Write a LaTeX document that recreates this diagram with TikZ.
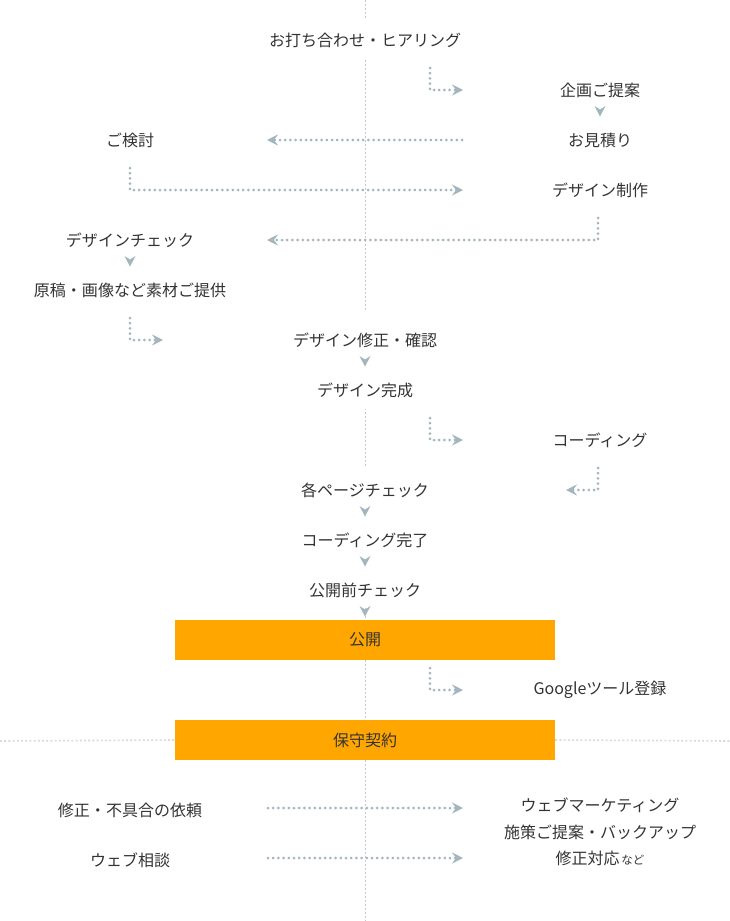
\documentclass[tikz,border=0pt]{standalone}
\usepackage{fontspec}
\setmainfont{Noto Sans CJK JP}
\usetikzlibrary{arrows.meta,calc}
\definecolor{txt}{HTML}{333333}
\definecolor{arr}{HTML}{A3B5BD}
\definecolor{cline}{HTML}{C8C8C8}
\definecolor{hline}{HTML}{DADADA}
\definecolor{orng}{HTML}{FFA600}
\begin{document}
\begin{tikzpicture}[x=1bp,y=-1bp,
  lbl/.style={text=txt,font=\fontsize{16bp}{19bp}\selectfont,inner sep=0pt},
  obox/.style={fill=orng,minimum width=380bp,minimum height=40bp,inner sep=0pt,text=txt,font=\fontsize{16bp}{19bp}\selectfont},
  flow/.style={draw=arr,line width=3bp,dash pattern=on 0bp off 5.2bp,line cap=round,
    -{Stealth[length=11bp,width=11bp,inset=4bp]}},
  down/.pic={\fill[arr] (-5.5,-5)--(0,5.5)--(5.5,-5)--(0,-1.5)--cycle;}]
\useasboundingbox (0,0) rectangle (730,921);
% center guide line
\draw[cline,line width=0.8bp,dash pattern=on 2bp off 2bp] (365,0) -- (365,921);
\fill[white] (358,20) rectangle (372,59);
\fill[white] (358,312) rectangle (372,409);
\fill[white] (358,468) rectangle (372,608);
% texts
\node[lbl] (hear) at (365,40) {お打ち合わせ・ヒアリング};
\node[lbl] (kikaku) at (600,90) {企画ご提案};
\node[lbl] (mitsu) at (600,140) {お見積り};
\node[lbl] (kento) at (130,140) {ご検討};
\node[lbl] (seisaku) at (600,190) {デザイン制作};
\node[lbl] (dcheck) at (130,240) {デザインチェック};
\node[lbl] (genko) at (130,290) {原稿・画像など素材ご提供};
\node[lbl] (shusei) at (365,340) {デザイン修正・確認};
\node[lbl] (kansei) at (365,390) {デザイン完成};
\node[lbl] (coding) at (600,440) {コーディング};
\node[lbl] (pcheck) at (365,490) {各ページチェック};
\node[lbl] (ckanryo) at (365,540) {コーディング完了};
\node[lbl] (kcheck) at (365,590) {公開前チェック};
\node[obox] (kokai) at (365,640) {公開};
\node[lbl] (google) at (600,690) {Googleツール登録};
\node[obox] (hoshu) at (365,740) {保守契約};
\node[lbl] (irai) at (130,810) {修正・不具合の依頼};
\node[lbl] (sodan) at (130,860) {ウェブ相談};
\node[lbl,align=center,font=\fontsize{16bp}{26.5bp}\selectfont] (mkt) at (600,832)
  {ウェブマーケティング\\施策ご提案・バックアップ\\修正対応{\fontsize{11.5bp}{12bp}\selectfont\,など}};
% gray line through maintenance box
\draw[hline,line width=1.6bp,dash pattern=on 2bp off 2.2bp] (0,741) -- (hoshu.west);
\draw[hline,line width=1.6bp,dash pattern=on 2bp off 2.2bp] (hoshu.east) -- (730,741);
% step triangles
\pic at ($(kikaku)!0.42!(mitsu)$) {down};
\pic at ($(dcheck)!0.42!(genko)$) {down};
\pic at ($(shusei)!0.42!(kansei)$) {down};
\pic at ($(pcheck)!0.42!(ckanryo)$) {down};
\pic at ($(ckanryo)!0.42!(kcheck)$) {down};
\pic at (365,611) {down};
% connector end points
\coordinate (a1s) at (430,68);  \coordinate (a1e) at (463,90);
\coordinate (a2s) at (462,140); \coordinate (a2e) at (267,140);
\coordinate (a3s) at (130,168); \coordinate (a3e) at (463,190);
\coordinate (a4s) at (598,218); \coordinate (a4e) at (267,240);
\coordinate (a5s) at (130,318); \coordinate (a5e) at (163,340);
\coordinate (a6s) at (430,418); \coordinate (a6e) at (463,440);
\coordinate (a7s) at (598,468); \coordinate (a7e) at (566,490);
\coordinate (a8s) at (430,668); \coordinate (a8e) at (463,690);
\coordinate (a9s) at (268,808); \coordinate (a9e) at (463,808);
\coordinate (a10s) at (268,858); \coordinate (a10e) at (463,858);
\draw[flow] (a1s) |- (a1e);
\draw[flow] (a2s) -- (a2e);
\draw[flow] (a3s) |- (a3e);
\draw[flow] (a4s) |- (a4e);
\draw[flow] (a5s) |- (a5e);
\draw[flow] (a6s) |- (a6e);
\draw[flow] (a7s) |- (a7e);
\draw[flow] (a8s) |- (a8e);
\draw[flow] (a9s) -- (a9e);
\draw[flow] (a10s) -- (a10e);
\end{tikzpicture}
\end{document}
